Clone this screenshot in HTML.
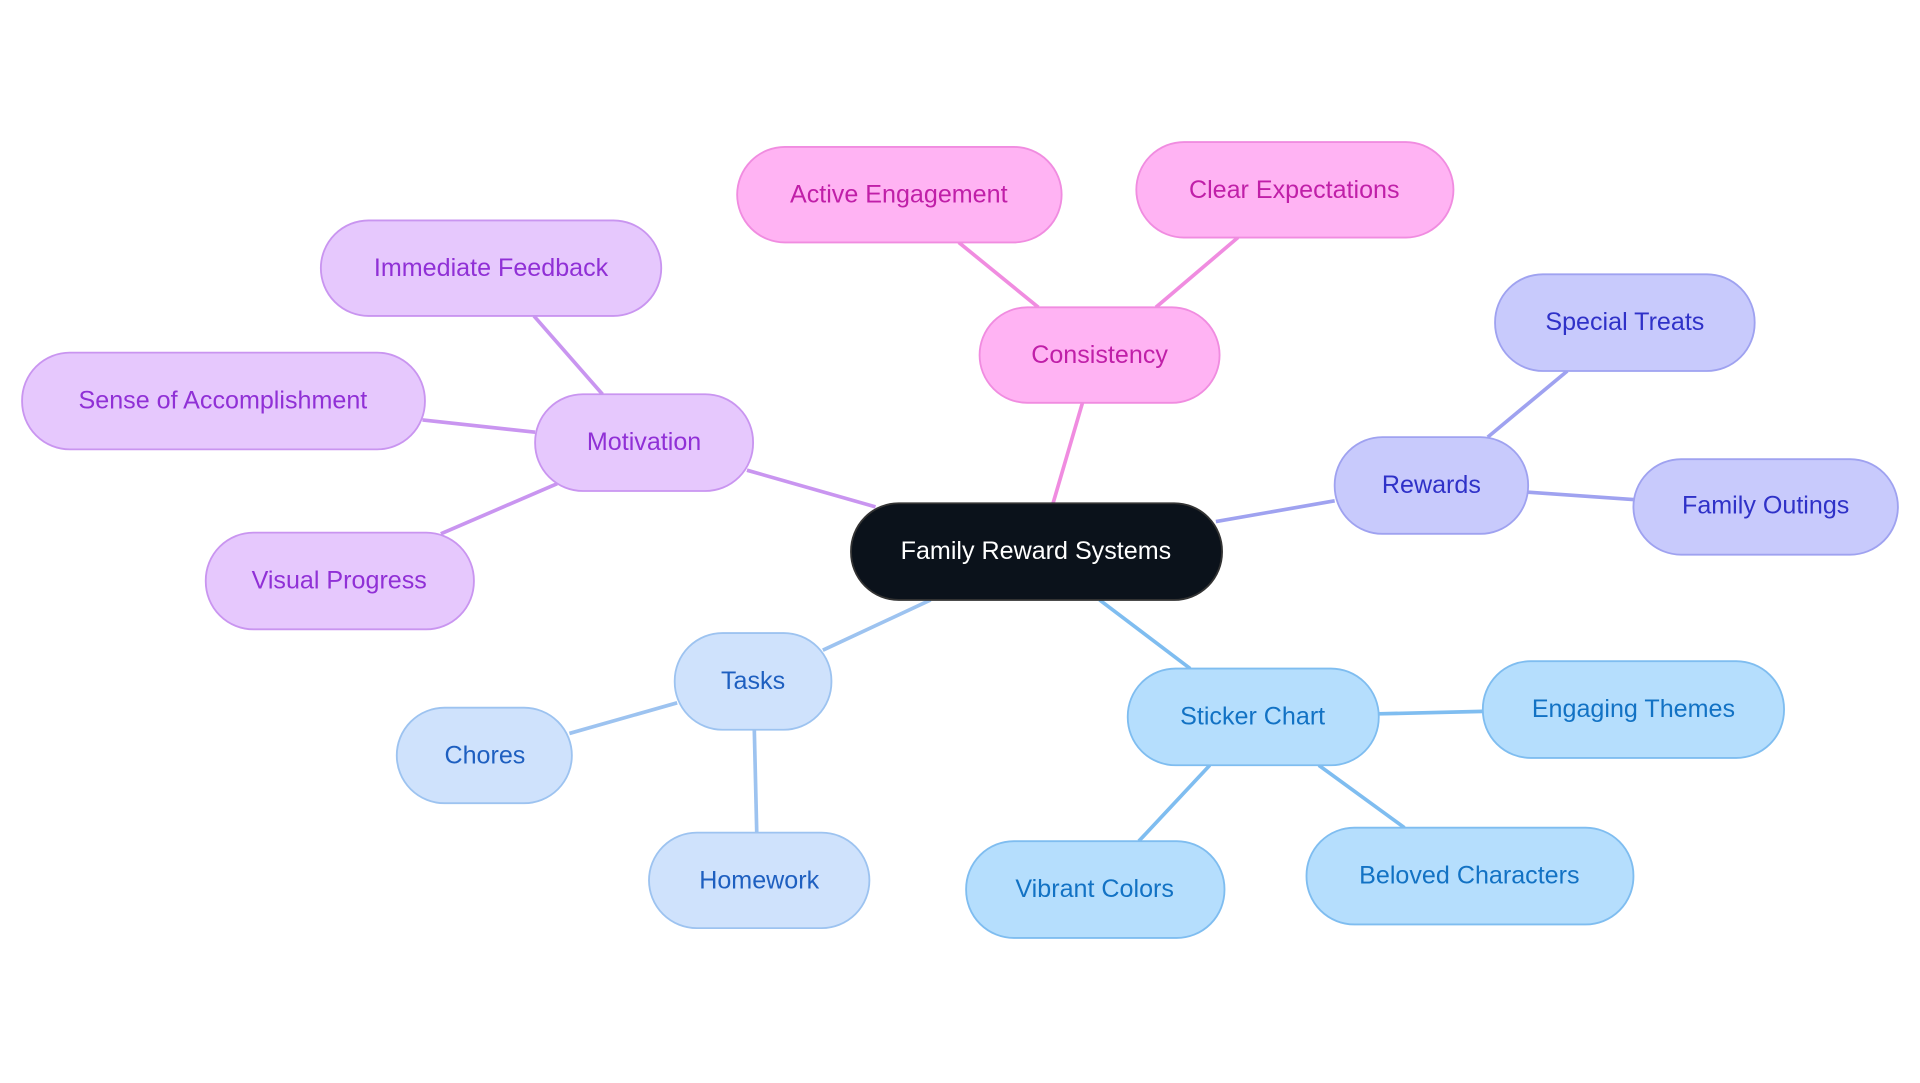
<!DOCTYPE html>
<html><head><meta charset="utf-8"><style>html,body{margin:0;padding:0;background:#fff}svg{display:block}text{font-family:"Liberation Sans",sans-serif;font-size:20.5px;text-anchor:middle;dominant-baseline:central}</style></head>
<body>
<svg width="1920" height="1083" viewBox="0 0 1568 884.5" xmlns="http://www.w3.org/2000/svg">
<g stroke-width="3" fill="none">
<g stroke="#f08ce0"><line x1="860" y1="411" x2="884" y2="329"/><line x1="848" y1="251" x2="783" y2="198"/><line x1="944" y1="251" x2="1011" y2="194"/></g>
<g stroke="#c995f0"><line x1="715" y1="414" x2="610" y2="384"/><line x1="492" y1="322" x2="436" y2="258"/><line x1="437" y1="353" x2="345" y2="343"/><line x1="455" y1="395" x2="360" y2="436"/></g>
<g stroke="#9fa2f0"><line x1="993" y1="426" x2="1090" y2="409"/><line x1="1215" y1="357" x2="1280" y2="303"/><line x1="1248" y1="402" x2="1334" y2="408"/></g>
<g stroke="#9dc3f0"><line x1="760" y1="490" x2="672" y2="531"/><line x1="553" y1="574" x2="465" y2="599"/><line x1="616" y1="596" x2="618" y2="680"/></g>
<g stroke="#7fbdf0"><line x1="898" y1="490" x2="972" y2="546"/><line x1="1126" y1="583" x2="1211" y2="581"/><line x1="988" y1="625" x2="930" y2="687"/><line x1="1077" y1="625" x2="1147" y2="676"/></g>
</g>
<g stroke-width="1.5">
<rect x="695" y="411" width="303" height="79" rx="39" fill="#0b121b" stroke="#333"/>
<text x="846" y="450" fill="#fff" stroke="none">Family Reward Systems</text>
<g fill="#ffb3f3" stroke="#f08ce0">
<rect x="800" y="251" width="196" height="78" rx="39"/><rect x="602" y="120" width="265" height="78" rx="39"/><rect x="928" y="116" width="259" height="78" rx="39"/></g>
<g fill="#c01fa8" stroke="none"><text x="898" y="290">Consistency</text><text x="734" y="159">Active Engagement</text><text x="1057" y="155">Clear Expectations</text></g>
<g fill="#e6c8fd" stroke="#c995f0">
<rect x="437" y="322" width="178" height="79" rx="39"/><rect x="262" y="180" width="278" height="78" rx="39"/><rect x="18" y="288" width="329" height="79" rx="39"/><rect x="168" y="435" width="219" height="79" rx="39"/></g>
<g fill="#9030d6" stroke="none"><text x="526" y="361">Motivation</text><text x="401" y="219">Immediate Feedback</text><text x="182" y="327">Sense of Accomplishment</text><text x="277" y="474">Visual Progress</text></g>
<g fill="#c8cafc" stroke="#9fa2f0">
<rect x="1090" y="357" width="158" height="79" rx="39"/><rect x="1221" y="224" width="212" height="79" rx="39"/><rect x="1334" y="375" width="216" height="78" rx="39"/></g>
<g fill="#2f31c8" stroke="none"><text x="1169" y="396">Rewards</text><text x="1327" y="263">Special Treats</text><text x="1442" y="413">Family Outings</text></g>
<g fill="#cfe2fc" stroke="#9dc3f0">
<rect x="551" y="517" width="128" height="79" rx="39"/><rect x="324" y="578" width="143" height="78" rx="39"/><rect x="530" y="680" width="180" height="78" rx="39"/></g>
<g fill="#1e5fc0" stroke="none"><text x="615" y="556">Tasks</text><text x="396" y="617">Chores</text><text x="620" y="719">Homework</text></g>
<g fill="#b5defd" stroke="#7fbdf0">
<rect x="921" y="546" width="205" height="79" rx="39"/><rect x="1211" y="540" width="246" height="79" rx="39"/><rect x="789" y="687" width="211" height="79" rx="39"/><rect x="1067" y="676" width="267" height="79" rx="39"/></g>
<g fill="#1272c4" stroke="none"><text x="1023" y="585">Sticker Chart</text><text x="1334" y="579">Engaging Themes</text><text x="894" y="726">Vibrant Colors</text><text x="1200" y="715">Beloved Characters</text></g>
</g>
</svg>
</body></html>
